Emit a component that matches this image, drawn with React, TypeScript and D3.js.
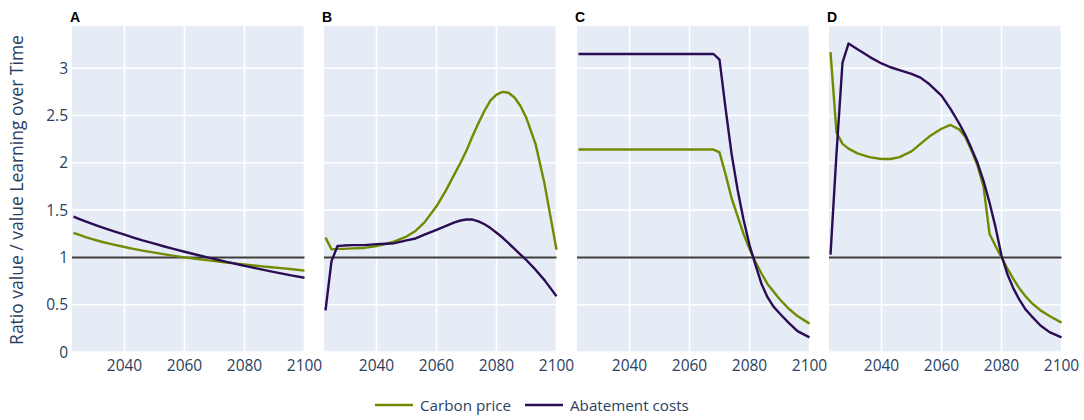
import * as d3 from "d3";

const years = [
  2023, 2025, 2027, 2029, 2032, 2036, 2040, 2043, 2046, 2050, 2053, 2056, 2060, 2063, 2066,
  2068, 2070, 2072, 2074, 2076, 2078, 2080, 2082, 2084, 2086, 2088, 2090, 2093, 2096, 2100,
];

// A
const carbonA = [
  1.26, 1.237, 1.215, 1.195, 1.168, 1.138, 1.11, 1.09, 1.072, 1.05, 1.034, 1.019, 1.0, 0.988, 0.976,
  0.968, 0.96, 0.953, 0.946, 0.939, 0.932, 0.925, 0.918, 0.911, 0.905, 0.899, 0.893, 0.884, 0.874, 0.86,
];
const abateA = [
  1.43, 1.405, 1.38, 1.357, 1.323, 1.28, 1.24, 1.21, 1.18, 1.145, 1.118, 1.092, 1.06, 1.036, 1.013,
  0.998, 0.983, 0.968, 0.953, 0.939, 0.925, 0.911, 0.897, 0.884, 0.871, 0.858, 0.845, 0.826, 0.807, 0.785,
];
// B
const carbonB = [
  1.21, 1.085, 1.09, 1.09, 1.095, 1.1, 1.12, 1.14, 1.17, 1.22, 1.28, 1.37, 1.54, 1.7, 1.88,
  2.0, 2.13, 2.28, 2.42, 2.55, 2.66, 2.72, 2.75, 2.74, 2.69, 2.6, 2.47, 2.2, 1.78, 1.08,
];
const abateB = [
  0.44, 0.96, 1.12, 1.125, 1.13, 1.13, 1.14, 1.145, 1.15, 1.18, 1.2, 1.24, 1.29, 1.33, 1.37,
  1.39, 1.4, 1.4, 1.38, 1.35, 1.31, 1.26, 1.21, 1.15, 1.09, 1.03, 0.97, 0.87, 0.76, 0.59,
];
// C
const carbonC = [
  2.14, 2.14, 2.14, 2.14, 2.14, 2.14, 2.14, 2.14, 2.14, 2.14, 2.14, 2.14, 2.14, 2.14, 2.14,
  2.14, 2.11, 1.88, 1.63, 1.44, 1.25, 1.09, 0.95, 0.83, 0.72, 0.64, 0.56, 0.46, 0.38, 0.3,
];
const abateC = [
  3.15, 3.15, 3.15, 3.15, 3.15, 3.15, 3.15, 3.15, 3.15, 3.15, 3.15, 3.15, 3.15, 3.15, 3.15,
  3.15, 3.09, 2.58, 2.1, 1.72, 1.4, 1.13, 0.92, 0.72, 0.58, 0.48, 0.41, 0.31, 0.22, 0.155,
];
// D
const carbonD = [
  3.17, 2.32, 2.2, 2.15, 2.1, 2.06, 2.04, 2.04, 2.06, 2.12, 2.2, 2.28, 2.36, 2.4, 2.35,
  2.27, 2.13, 1.97, 1.75, 1.25, 1.12, 1.0, 0.88, 0.77, 0.67, 0.59, 0.52, 0.44, 0.38, 0.31,
];
const abateD = [
  1.03, 2.1, 3.06, 3.26, 3.2, 3.12, 3.05, 3.01, 2.98, 2.94, 2.9, 2.83, 2.71, 2.57, 2.41,
  2.29, 2.15, 2.0, 1.81, 1.58, 1.32, 1.02, 0.82, 0.67, 0.55, 0.45, 0.38, 0.28, 0.21, 0.155,
];

const panelLabels = ["A", "B", "C", "D"];
const carbonSeries = [carbonA, carbonB, carbonC, carbonD];
const abateSeries = [abateA, abateB, abateC, abateD];
const xTicks = [2040, 2060, 2080, 2100];
const yTicks = [0, 0.5, 1, 1.5, 2, 2.5, 3];
const legendNames = ["Carbon price", "Abatement costs"];

const GREEN = "#718a00";
const PURPLE = "#2c0c54";
const FONT = "'Open Sans', sans-serif";
const TXT = "#2a3f5f";

const panelLefts = [72, 324, 577, 829];
const panelWidth = 232.5;
const top = 26;
const bottom = 352;

export default function App() {
  const y = d3.scaleLinear().domain([0, 3.446]).range([bottom, top]);

  return (
    <svg
      width={1084}
      height={420}
      style={{ position: "absolute", left: 0, top: 0, background: "#fff" }}
    >
      {panelLabels.map((label, p) => {
        const left = panelLefts[p];
        const x = d3.scaleLinear().domain([2022.5, 2100]).range([left, left + panelWidth]);
        const line = d3
          .line<number>()
          .x((_, i) => x(years[i]))
          .y((d) => y(d));
        return (
          <g key={label}>
            <rect x={left} y={top} width={panelWidth} height={bottom - top} fill="#e5ecf6" />
            {xTicks.map((t) => (
              <line key={t} x1={x(t)} x2={x(t)} y1={top} y2={bottom} stroke="#fff" strokeWidth={1.6} />
            ))}
            {yTicks.map((t) => (
              <line key={t} x1={left} x2={left + panelWidth} y1={y(t)} y2={y(t)} stroke="#fff" strokeWidth={1.6} />
            ))}
            <line x1={left} x2={left + panelWidth} y1={y(1)} y2={y(1)} stroke="#3a3a3a" strokeWidth={2} />
            <path d={line(carbonSeries[p]) || ""} fill="none" stroke={GREEN} strokeWidth={2.4} strokeLinejoin="round" />
            <path d={line(abateSeries[p]) || ""} fill="none" stroke={PURPLE} strokeWidth={2.4} strokeLinejoin="round" />
            {xTicks.map((t) => (
              <text key={t} x={x(t)} y={371} textAnchor="middle" fontFamily={FONT} fontSize={15.5} fill={TXT}>
                {t}
              </text>
            ))}
            <text x={left - 2} y={22} fontFamily="'Liberation Sans', Arial, sans-serif" fontWeight="bold" fontSize={14} fill="#000">
              {label}
            </text>
            {p === 0 &&
              yTicks.map((t) => (
                <text key={t} x={left - 4} y={y(t) + 5.5} textAnchor="end" fontFamily={FONT} fontSize={15.5} fill={TXT}>
                  {t}
                </text>
              ))}
          </g>
        );
      })}
      <text
        transform={`translate(23, ${(top + bottom) / 2 + 1}) rotate(-90)`}
        textAnchor="middle"
        fontFamily={FONT}
        fontSize={17.5}
        fill={TXT}
      >
        Ratio value / value Learning over Time
      </text>
      {legendNames.map((name, i) => {
        const lx = i === 0 ? 375 : 525;
        return (
          <g key={name}>
            <line x1={lx} x2={lx + 38} y1={405} y2={405} stroke={i === 0 ? GREEN : PURPLE} strokeWidth={2.4} />
            <text x={lx + 45} y={410.5} fontFamily={FONT} fontSize={15.2} fill={TXT}>
              {name}
            </text>
          </g>
        );
      })}
    </svg>
  );
}
